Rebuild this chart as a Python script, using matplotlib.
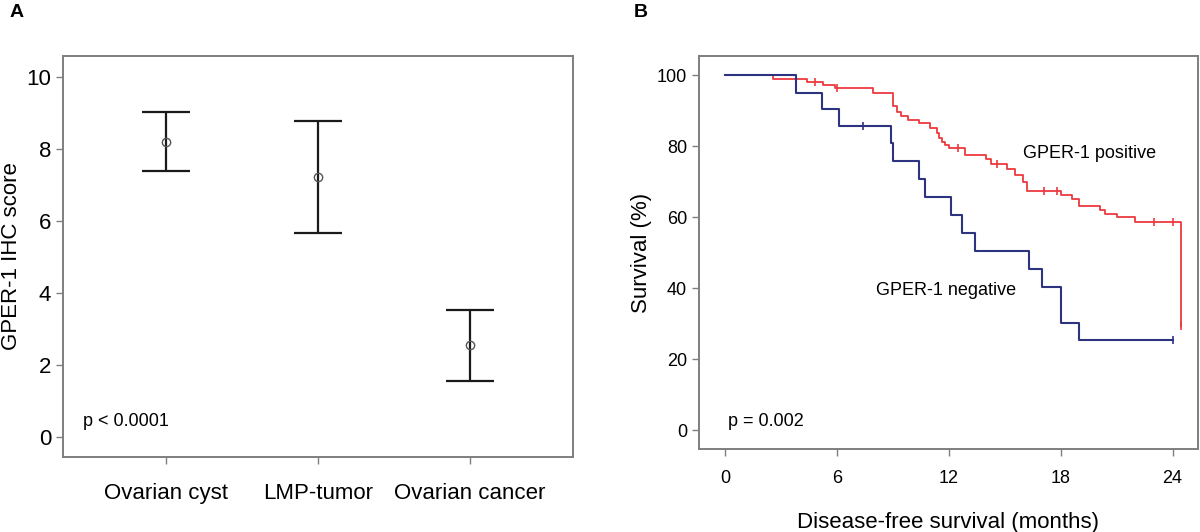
import matplotlib
matplotlib.use("Agg")
import matplotlib.pyplot as plt
import numpy as np

plt.rcParams['font.family'] = ['Liberation Sans', 'DejaVu Sans']

# panel A: mean and 95% CI of IHC score
groups = ['Ovarian cyst', 'LMP-tumor', 'Ovarian cancer']
score_mean = [8.19, 7.21, 2.54]
score_low = [7.39, 5.67, 1.56]
score_high = [9.01, 8.77, 3.53]

# panel B: Kaplan-Meier steps (time in months, survival in %)
pos_time = [0, 2.6, 4.4, 5.25, 5.9, 7.95, 9.0, 9.2, 9.45, 9.8, 10.4, 11.0, 11.35,
            11.5, 11.65, 11.8, 12.0, 12.87, 14.0, 14.25, 15.1, 15.55, 16.0, 16.2,
            18.0, 18.6, 19.0, 20.1, 20.4, 21.0, 22.0, 24.45]
pos_surv = [100, 98.9, 98.1, 97.3, 96.3, 95.1, 91.4, 89.6, 88.4, 87.5, 86.4, 85.0, 83.7,
            82.4, 81.2, 80.3, 79.6, 77.6, 76.3, 74.9, 73.5, 71.8, 69.8, 67.3,
            66.3, 65.0, 63.1, 62.0, 61.0, 59.9, 58.6, 29.3]
pos_cens_time = [4.85, 6.0, 12.5, 14.6, 17.1, 17.8, 23.0, 24.0, 24.45]
pos_cens_surv = [98.1, 96.3, 79.6, 74.9, 67.3, 67.3, 58.6, 58.6, 29.3]

neg_time = [0, 3.8, 5.2, 6.1, 8.9, 9.0, 10.4, 10.7, 12.1, 12.7, 13.4, 16.3, 17.0,
            18.0, 19.0, 24.0]
neg_surv = [100, 95.1, 90.4, 85.7, 80.8, 75.9, 70.7, 65.7, 60.6, 55.6, 50.4, 45.5, 40.4,
            30.3, 25.3, 25.3]
neg_cens_time = [7.4, 24.0]
neg_cens_surv = [85.7, 25.3]

red = '#ec3a3f'
navy = '#2e3380'
spine_col = '#7f7f7f'

fig = plt.figure(figsize=(12, 5.32), dpi=100)


def style_axes(ax):
    for s in ax.spines.values():
        s.set_color(spine_col)
        s.set_linewidth(1.4)
    ax.tick_params(direction='out', length=5, width=1.0, color=spine_col)


# ---- panel A
ax1 = fig.add_axes([0.0525, 0.141, 0.425, 0.7538])
x = np.arange(len(groups))
mean = np.array(score_mean)
yerr = [mean - np.array(score_low), np.array(score_high) - mean]
ax1.errorbar(x, mean, yerr=yerr, fmt='none', ecolor='#1a1a1a', elinewidth=1.6,
             capsize=17, capthick=1.6)
ax1.plot(x, mean, 'o', mfc='none', mec='#555555', ms=6, mew=1.0)
ax1.set_xlim(-0.68, 2.68)
ax1.set_ylim(-0.56, 10.58)
ax1.set_yticks([0, 2, 4, 6, 8, 10])
ax1.set_xticks(x)
ax1.set_xticklabels(groups, fontsize=16)
ax1.tick_params(axis='x', pad=14)
ax1.tick_params(axis='y', labelsize=16)
ax1.set_ylabel('GPER-1 IHC score', fontsize=16)
ax1.yaxis.set_label_coords(-0.08, 0.5)
ax1.text(-0.55, 0.42, 'p < 0.0001', fontsize=13, va='center')
style_axes(ax1)

# ---- panel B
ax2 = fig.add_axes([0.5825, 0.156, 0.4158, 0.7387])
ax2.step(pos_time, pos_surv, where='post', color=red, lw=1.3)
ax2.step(neg_time, neg_surv, where='post', color=navy, lw=1.5)
ax2.plot(pos_cens_time, pos_cens_surv, '|', color=red, ms=6, mew=1.2)
ax2.plot(neg_cens_time, neg_cens_surv, '|', color=navy, ms=6, mew=1.2)
ax2.set_xlim(-1.39, 25.36)
ax2.set_ylim(-5.35, 105.4)
ax2.set_xticks([0, 6, 12, 18, 24])
ax2.set_yticks([0, 20, 40, 60, 80, 100])
ax2.tick_params(labelsize=13)
ax2.tick_params(axis='x', pad=10)
ax2.set_xlabel('Disease-free survival (months)', fontsize=16, labelpad=18)
ax2.set_ylabel('Survival (%)', fontsize=16)
ax2.yaxis.set_label_coords(-0.094, 0.5)
ax2.text(16.0, 78, 'GPER-1 positive', fontsize=13, va='center')
ax2.text(8.1, 39.2, 'GPER-1 negative', fontsize=13, va='center')
ax2.text(0.16, 2.3, 'p = 0.002', fontsize=13, va='center')
style_axes(ax2)

fig.text(0.008, 0.993, 'A', fontsize=14, fontweight='bold', va='top')
fig.text(0.528, 0.993, 'B', fontsize=14, fontweight='bold', va='top')

fig.savefig('out.png', dpi=100)
